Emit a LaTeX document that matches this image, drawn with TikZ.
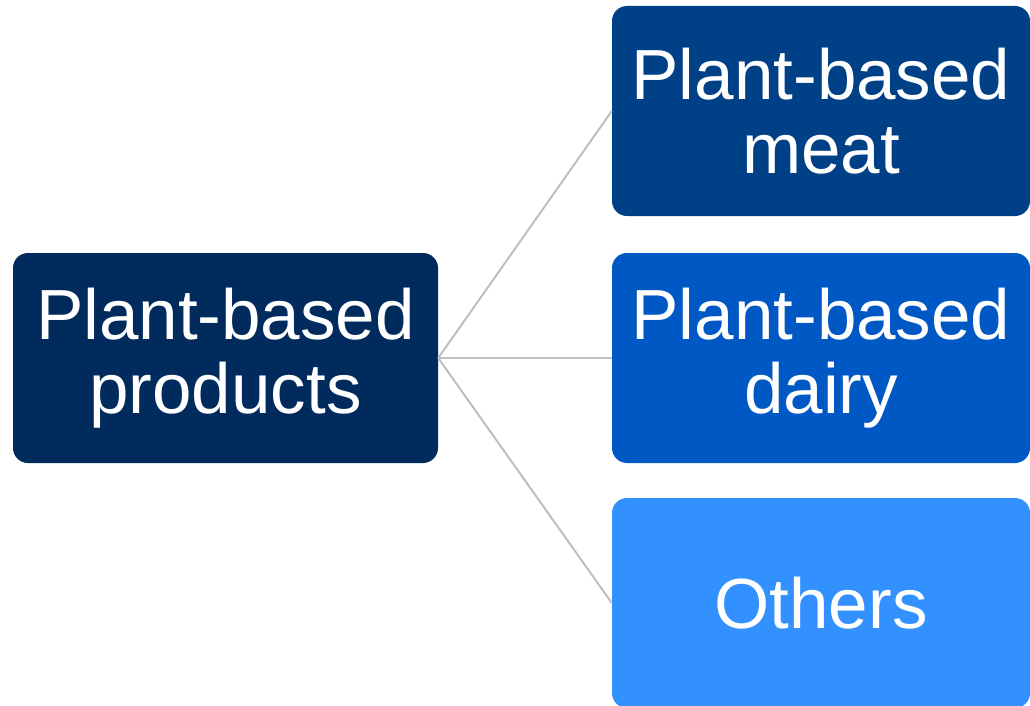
\documentclass[tikz,border=0pt]{standalone}
\usepackage{fontspec}
\setmainfont{Liberation Sans}
\definecolor{navy}{RGB}{0,43,92}
\definecolor{meatblue}{RGB}{0,64,135}
\definecolor{dairyblue}{RGB}{0,88,196}
\definecolor{otherblue}{RGB}{50,145,255}
\definecolor{conngray}{RGB}{191,191,191}
\tikzset{
  catbox/.style={rounded corners=15pt, inner sep=0pt, text=white, align=center,
    font=\fontsize{71}{74}\selectfont, minimum height=210pt},
  conn/.style={draw=conngray, line width=2pt}
}
\begin{document}
\begin{tikzpicture}[x=1pt,y=-1pt]
\useasboundingbox (0,0) rectangle (1030,706);
\clip (0,0) rectangle (1030,706);
\node[catbox, fill=navy, minimum width=425pt] (root) at (225.5,358) {Plant-based\\products};
\node[catbox, fill=meatblue, minimum width=418pt] (meat) at (821,111) {Plant-based\\meat};
\node[catbox, fill=dairyblue, minimum width=418pt] (dairy) at (821,358) {Plant-based\\dairy};
\node[catbox, fill=otherblue, minimum width=418pt] (others) at (821,603) {Others};
\draw[conn] (root.east) -- (meat.west);
\draw[conn] (root.east) -- (dairy.west);
\draw[conn] (root.east) -- (others.west);
\end{tikzpicture}
\end{document}
